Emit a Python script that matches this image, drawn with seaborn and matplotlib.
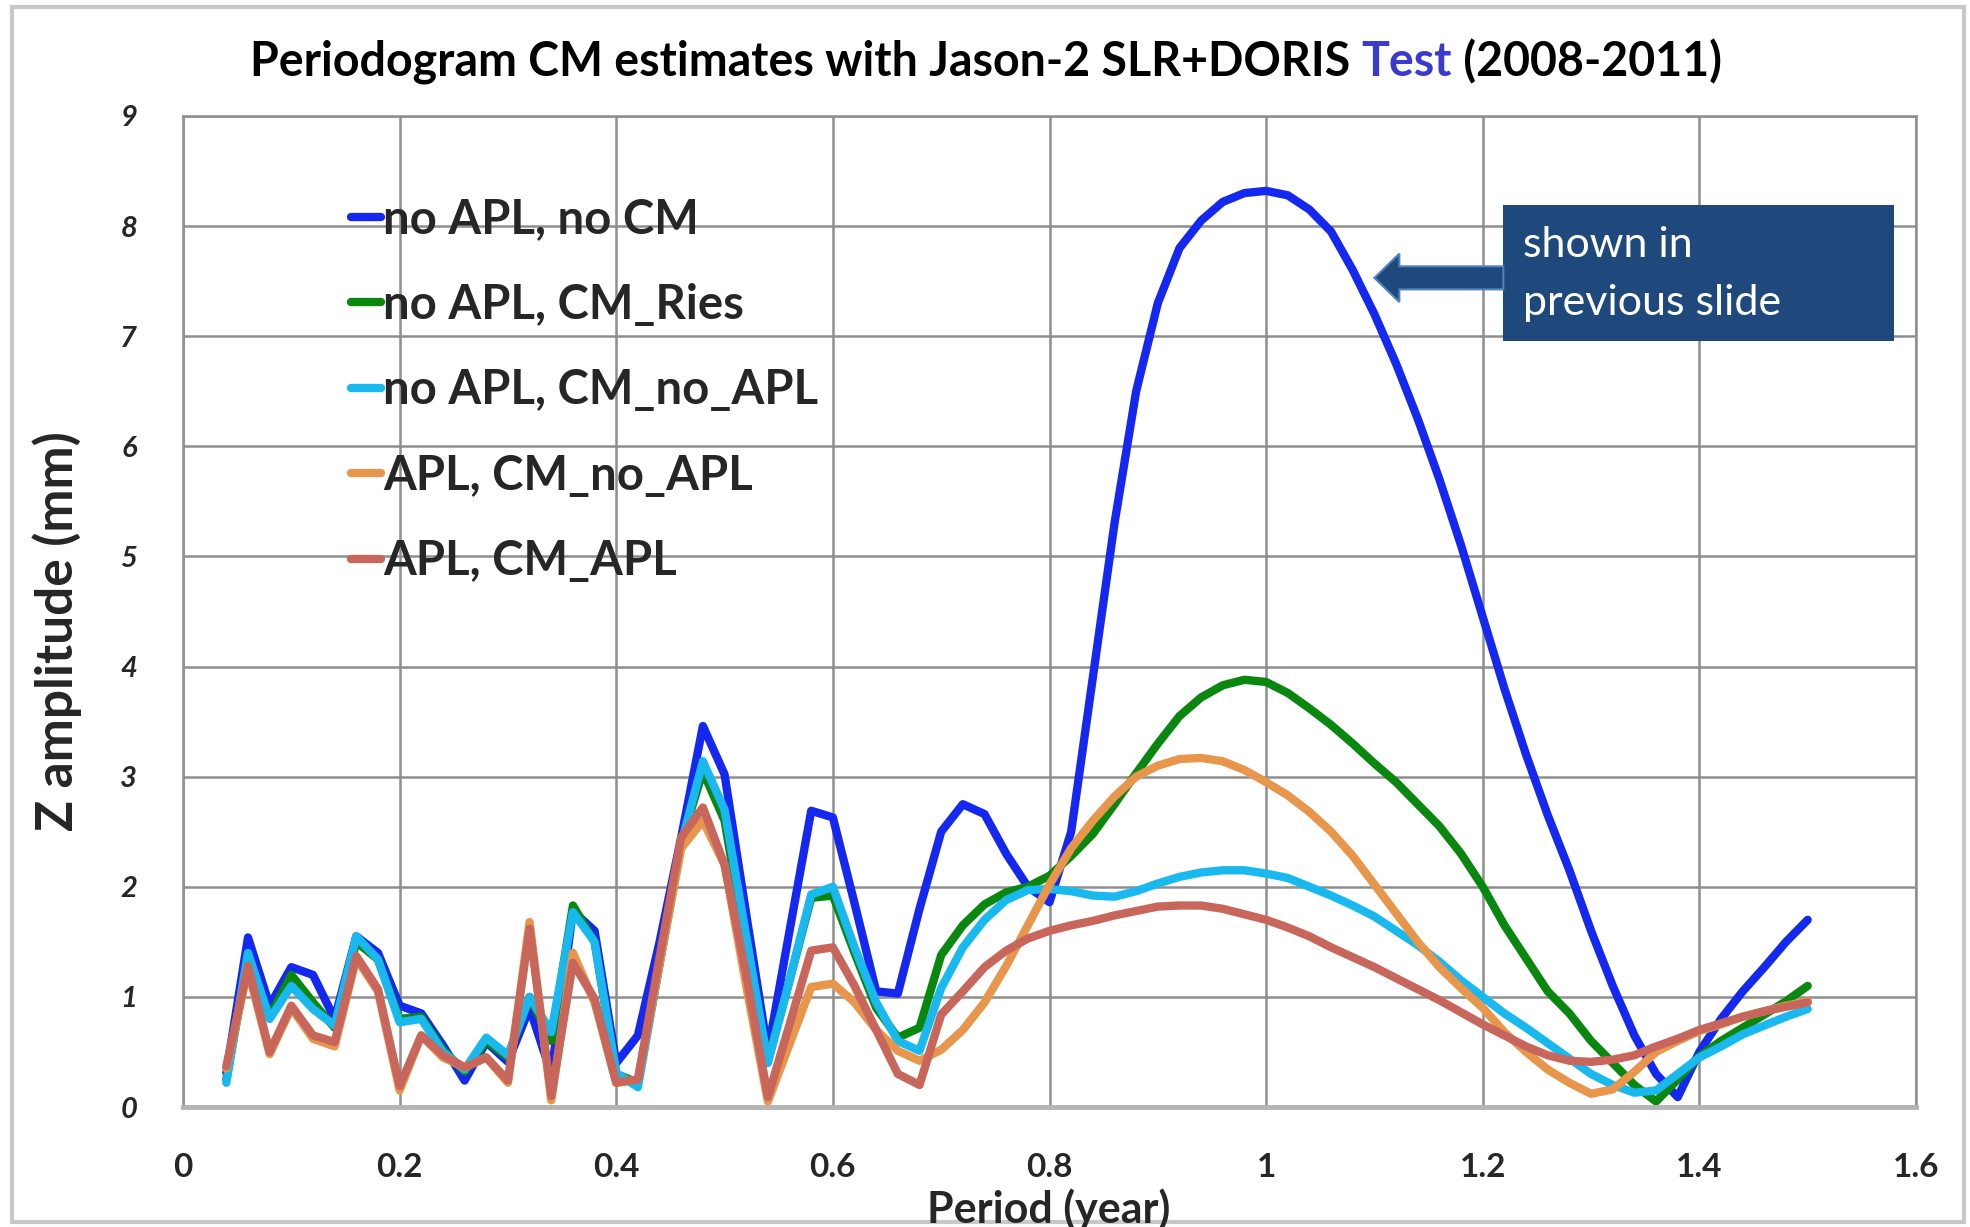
import numpy as np
import pandas as pd
import seaborn as sns; sns.set_style('white')
import matplotlib.pyplot as plt
import matplotlib.patches as mpatches

plt.rcParams['font.family'] = ['Lato', 'DejaVu Sans']

# period grid (year) and Z amplitudes (mm)
period = np.round(np.arange(0.04, 1.5001, 0.02), 2)

no_apl_no_cm = [0.31, 1.54, 0.92, 1.27, 1.20, 0.80, 1.55, 1.40, 0.92, 0.85,
                0.56, 0.24, 0.59, 0.41, 0.90, 0.30, 1.78, 1.60, 0.40, 0.65,
                1.50, 2.45, 3.46, 3.02, 1.75, 0.50, 1.60, 2.69, 2.63, 1.85,
                1.05, 1.03, 1.80, 2.50, 2.75, 2.66, 2.30, 2.00, 1.86,
                2.50, 3.90, 5.30, 6.50, 7.30, 7.80, 8.05, 8.22, 8.30, 8.32,
                8.28, 8.15, 7.95, 7.60, 7.20, 6.75, 6.25, 5.70, 5.10, 4.45,
                3.80, 3.20, 2.65, 2.15, 1.60, 1.10, 0.65, 0.30, 0.09, 0.50,
                0.80, 1.05, 1.27, 1.50, 1.70]
no_apl_cm_ries = [0.25, 1.35, 0.82, 1.20, 0.95, 0.72, 1.50, 1.34, 0.80, 0.82,
                  0.52, 0.32, 0.60, 0.45, 1.00, 0.60, 1.83, 1.50, 0.30, 0.22,
                  1.30, 2.40, 3.05, 2.60, 1.45, 0.42, 1.15, 1.90, 1.92, 1.40,
                  0.90, 0.63, 0.72, 1.38, 1.65, 1.84, 1.95, 2.00, 2.10,
                  2.28, 2.48, 2.75, 3.03, 3.30, 3.55, 3.72, 3.83, 3.88, 3.86,
                  3.76, 3.62, 3.47, 3.30, 3.12, 2.95, 2.75, 2.55, 2.30, 2.00,
                  1.65, 1.35, 1.05, 0.85, 0.60, 0.40, 0.20, 0.05, 0.25, 0.46,
                  0.60, 0.72, 0.84, 0.96, 1.10]
no_apl_cm_no_apl = [0.22, 1.40, 0.80, 1.10, 0.89, 0.74, 1.55, 1.34, 0.77, 0.80,
                    0.50, 0.34, 0.63, 0.47, 1.00, 0.68, 1.77, 1.50, 0.31, 0.18,
                    1.30, 2.39, 3.14, 2.70, 1.55, 0.40, 1.15, 1.93, 2.00, 1.45,
                    0.95, 0.60, 0.51, 1.08, 1.45, 1.70, 1.88, 1.97, 1.98,
                    1.96, 1.92, 1.91, 1.96, 2.03, 2.09, 2.13, 2.15, 2.15, 2.12,
                    2.08, 2.00, 1.92, 1.83, 1.73, 1.60, 1.47, 1.32, 1.15, 1.00,
                    0.85, 0.72, 0.58, 0.44, 0.30, 0.20, 0.13, 0.15, 0.30, 0.45,
                    0.55, 0.66, 0.74, 0.82, 0.89]
apl_cm_no_apl = [0.35, 1.25, 0.48, 0.90, 0.62, 0.55, 1.35, 1.05, 0.15, 0.65,
                 0.45, 0.36, 0.45, 0.22, 1.68, 0.06, 1.40, 0.95, 0.22, 0.25,
                 1.30, 2.35, 2.60, 2.20, 1.10, 0.05, 0.57, 1.09, 1.12, 0.95,
                 0.70, 0.51, 0.42, 0.52, 0.70, 0.95, 1.28, 1.65, 2.02,
                 2.35, 2.60, 2.82, 3.00, 3.10, 3.16, 3.17, 3.14, 3.06, 2.95,
                 2.83, 2.68, 2.50, 2.28, 2.02, 1.76, 1.50, 1.27, 1.08, 0.90,
                 0.68, 0.50, 0.34, 0.22, 0.12, 0.16, 0.32, 0.50, 0.60, 0.69,
                 0.75, 0.82, 0.87, 0.92, 0.96]
apl_cm_apl = [0.37, 1.28, 0.50, 0.92, 0.65, 0.59, 1.37, 1.07, 0.19, 0.65,
              0.47, 0.36, 0.45, 0.24, 1.62, 0.10, 1.31, 0.98, 0.22, 0.25,
              1.36, 2.45, 2.72, 2.20, 1.20, 0.09, 0.75, 1.42, 1.45, 1.10,
              0.70, 0.30, 0.20, 0.84, 1.05, 1.27, 1.42, 1.53, 1.60,
              1.65, 1.69, 1.74, 1.78, 1.82, 1.83, 1.83, 1.80, 1.75, 1.70,
              1.63, 1.55, 1.45, 1.36, 1.27, 1.17, 1.07, 0.97, 0.86, 0.75,
              0.65, 0.55, 0.47, 0.42, 0.41, 0.43, 0.47, 0.55, 0.62, 0.70,
              0.76, 0.82, 0.87, 0.91, 0.95]

labels = ['no APL, no CM', 'no APL, CM_Ries', 'no APL, CM_no_APL',
          'APL, CM_no_APL', 'APL, CM_APL']
colors = ['#1428f0', '#0a870f', '#19b9f0', '#e8964b', '#c8665c']
x_ticks = [0, 0.2, 0.4, 0.6, 0.8, 1, 1.2, 1.4, 1.6]
x_ticklabels = ['0', '0.2', '0.4', '0.6', '0.8', '1', '1.2', '1.4', '1.6']
y_ticks = list(range(10))

series = [no_apl_no_cm, no_apl_cm_ries, no_apl_cm_no_apl, apl_cm_no_apl, apl_cm_apl]
df = pd.concat([pd.DataFrame({'period': period, 'amp': v, 'run': l})
                for l, v in zip(labels, series)], ignore_index=True)

W, H = 1970, 1227
fig = plt.figure(figsize=(W/100, H/100), dpi=100)
ax = fig.add_axes([183/W, 1-1107/H, (1916-183)/W, (1107-116)/H])

sns.lineplot(data=df, x='period', y='amp', hue='run', hue_order=labels,
             palette=colors, lw=6, sort=False, estimator=None, ax=ax)
for ln in ax.lines:
    ln.set_solid_joinstyle('round')
    ln.set_solid_capstyle('round')

# axes formatting
gc = '#8e8e8e'
ax.set_xlim(0, 1.6)
ax.set_ylim(0, 9)
ax.set_xticks(x_ticks)
ax.set_xticklabels(x_ticklabels, fontsize=24, fontweight='bold')
ax.set_yticks(y_ticks)
ax.set_yticklabels([str(t) for t in y_ticks], fontsize=21, fontweight='bold',
                   fontstyle='italic')
ax.set_axisbelow(True)
ax.grid(True, color=gc, lw=1.8)
ax.tick_params(axis='x', length=9, width=1.8, color=gc, pad=24)
ax.tick_params(axis='y', length=11, width=1.8, color=gc, pad=22)
for s in ['top', 'right', 'left']:
    ax.spines[s].set_color(gc)
    ax.spines[s].set_linewidth(1.8)
ax.spines['bottom'].set_color('#b4b4b4')
ax.spines['bottom'].set_linewidth(3.5)
ax.set_xlabel('')
ax.set_ylabel('')

# legend
h, l = ax.get_legend_handles_labels()
leg = ax.legend(h, l, loc='upper left', bbox_to_anchor=(0.097, 0.918),
                frameon=False, handlelength=0.63, handletextpad=0.05,
                labelspacing=0.88, borderaxespad=0, borderpad=0,
                prop={'family': 'Lato', 'weight': 'bold', 'size': 34})
for lh in leg.get_lines():
    lh.set_linewidth(6)

# axis titles
fig.text(57/W, 1-631/H, 'Z amplitude (mm)', rotation=90, ha='center',
         va='center', fontsize=37, fontweight='bold')
fig.text(1049/W, 1-1209/H, 'Period (year)', ha='center', va='center',
         fontsize=31, fontweight='bold')

# title with coloured word
parts = [('Periodogram CM estimates with Jason-2 SLR+DORIS ', 'black'),
         ('Test', '#3a3ad0'), (' (2008-2011)', 'black')]
r = fig.canvas.get_renderer()
txts = [fig.text(0, 1-62/H, p, color=c, fontsize=33.5, fontweight='bold',
                 va='center', ha='left') for p, c in parts]
widths = [t.get_window_extent(r).width for t in txts]
x0 = 986 - sum(widths)/2
for t, w in zip(txts, widths):
    t.set_x(x0/W)
    x0 += w

# annotation box + arrow
box_c = '#1f497d'
ax.add_patch(mpatches.Rectangle((1.219, 6.96), 0.361, 1.23, facecolor=box_c,
                                edgecolor='none', clip_on=False, zorder=5))
ax.add_patch(mpatches.FancyArrow(1.219, 7.53, -0.119, 0, width=0.209,
                                 head_width=0.44, head_length=0.023,
                                 length_includes_head=True, facecolor=box_c,
                                 edgecolor='#4f81bd', lw=1.5, zorder=5))
ax.text(1.237, 7.83, 'shown in', color='white', fontsize=31, va='center',
        ha='left', zorder=6)
ax.text(1.237, 7.30, 'previous slide', color='white', fontsize=31,
        va='center', ha='left', zorder=6)

# outer chart frame
fig.patches.append(mpatches.Rectangle((12/W, 1-1222/H), (1964-12)/W, (1222-7)/H,
                                      transform=fig.transFigure, fill=False,
                                      edgecolor='#c8c8c8', lw=3))

plt.savefig('out.png', dpi=100)
